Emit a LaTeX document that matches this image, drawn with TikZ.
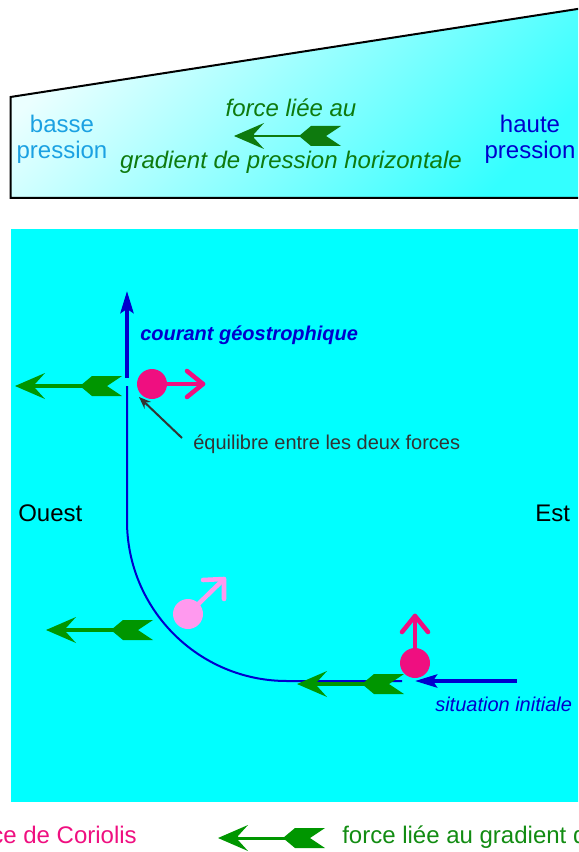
\documentclass[tikz,border=0pt]{standalone}
\usepackage{fontspec}
\setmainfont{Liberation Sans}
\usetikzlibrary{arrows.meta}
\definecolor{cyanbg}{HTML}{00FFFF}
\definecolor{lowblue}{HTML}{1BA1E2}
\definecolor{deepblue}{HTML}{0000CD}
\definecolor{topgreen}{HTML}{0E7A0E}
\definecolor{arrgreen}{HTML}{009600}
\definecolor{leggreen}{HTML}{128C12}
\definecolor{magentac}{HTML}{EF0F80}
\definecolor{pinkc}{HTML}{FF99EE}
\definecolor{notegray}{HTML}{333333}
\newcommand\garrow[4]{%
  \begin{scope}[shift={(#1,#2)}, color=#3]
    \fill (0,0) -- (30,-13) -- (20,-2) -- (20,2) -- (30,13) -- cycle;
    \draw[line width=#4] (19,0) -- (70,0);
    \fill (65,0) -- (77,-10) -- (107,-10) -- (92,0) -- (107,10) -- (77,10) -- cycle;
  \end{scope}}
\begin{document}
\begin{tikzpicture}[x=0.75pt,y=-0.75pt,
  bigtxt/.style={font=\fontsize{18}{19.5}\selectfont, inner sep=0pt},
  midtxt/.style={font=\fontsize{15}{18}\selectfont, inner sep=0pt},
  dot/.style={circle, minimum size=22.5pt, inner sep=0pt},
  forcearrow/.style={line width=3.4pt, line cap=round, line join=round},
  bluethick/.style={deepblue, line width=3pt, -{Stealth[length=16.5pt,width=9.75pt,inset=3pt]}},
  bluethin/.style={deepblue, line width=1.5pt}]
\useasboundingbox (0,0) rectangle (578,852);
\clip (0,0) rectangle (578,852);

% top panel
\draw[line width=1.5pt, top color=cyan!8!white, bottom color=cyan!80!white, shading angle=45]
  (10.5,97) -- (600,5.5) -- (600,198) -- (10.5,198) -- cycle;
\node[bigtxt, lowblue, align=center] (basse) at (62,139) {basse\\pression};
\node[bigtxt, deepblue, align=center] (haute) at (530,139) {haute\\pression};
\node[bigtxt, topgreen, anchor=base, font=\fontsize{18}{19.5}\selectfont\itshape] (fl) at (291,117) {force liée au};
\node[bigtxt, topgreen, anchor=base, font=\fontsize{18}{19.5}\selectfont\itshape] (gr) at (291,169) {gradient de pression horizontale};
\garrow{234}{136}{topgreen}{1.5pt}

% bottom panel
\fill[cyanbg] (11,229) rectangle (600,802);

% trajectory
\coordinate (v1) at (127,386);
\coordinate (v2) at (127,521);
\draw[bluethin] (v1) -- (v2) arc[start angle=180, end angle=90, radius=160] -- (402,681);

% green force arrows
\garrow{15}{386}{arrgreen}{3pt}
\garrow{46}{630}{arrgreen}{3pt}
\garrow{297}{684}{arrgreen}{3pt}

% blue current arrows
\coordinate (g1) at (127,378);
\coordinate (g2) at (127,291);
\draw[bluethick] (g1) -- (g2);
\coordinate (s1) at (517,681);
\coordinate (s2) at (415,681);
\draw[bluethick] (s1) -- (s2);

% Coriolis forces
\node[dot, fill=magentac] (d1) at (152,384) {};
\coordinate (t1) at (203,384);
\draw[forcearrow, magentac] (d1.center) -- (t1);
\draw[forcearrow, magentac] (187,371) -- (t1) -- (187,397);

\node[dot, fill=pinkc] (d2) at (188,614) {};
\coordinate (t2) at (224,579);
\draw[forcearrow, pinkc] (d2.center) -- (t2);
\draw[forcearrow, pinkc] (203,580) -- (t2) -- (224,599);

\node[dot, fill=magentac] (d3) at (415,663) {};
\coordinate (t3) at (415,616);
\draw[forcearrow, magentac] (d3.center) -- (t3);
\draw[forcearrow, magentac] (402,632) -- (t3) -- (428,632);

% labels
\node[midtxt, deepblue, anchor=base west, font=\fontsize{15}{17}\selectfont\bfseries\itshape] (cg) at (140,340) {courant géostrophique};
\node[midtxt, notegray, anchor=base west] (eq) at (193,449) {équilibre entre les deux forces};
\coordinate (n1) at (182,438);
\coordinate (n2) at (139,397);
\draw[notegray, line width=1.5pt, -{Stealth[length=9pt,width=7pt]}] (n1) -- (n2);
\node[bigtxt, black, anchor=base west] (ouest) at (18,521) {Ouest};
\node[bigtxt, black, anchor=base west] (est) at (535,521) {Est};
\node[midtxt, deepblue, anchor=base west, font=\fontsize{15}{18}\selectfont\itshape] (si) at (435,711) {situation initiale};

% legend
\node[bigtxt, magentac, anchor=base east] (lc) at (137,843) {force de Coriolis};
\garrow{218}{838}{arrgreen}{2.25pt}
\node[bigtxt, leggreen, anchor=base west] (lg) at (342,843) {force liée au gradient de pression horizontale};
\end{tikzpicture}
\end{document}
